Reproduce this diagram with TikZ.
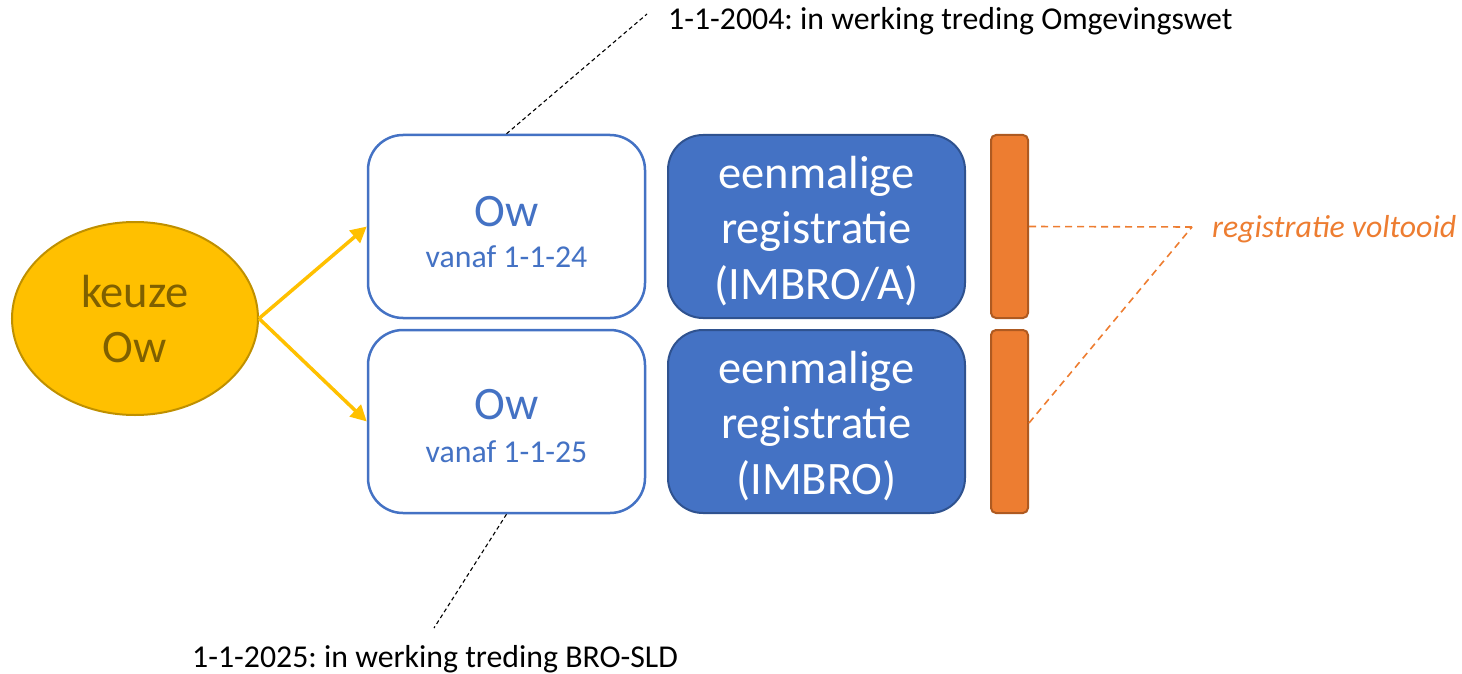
\documentclass[tikz,border=0pt]{standalone}
\usepackage{fontspec}
\setmainfont{Carlito}
\frenchspacing
\usetikzlibrary{shapes.geometric,arrows.meta}
\definecolor{ygold}{HTML}{FFC000}
\definecolor{ygoldline}{HTML}{BF9000}
\definecolor{ygoldtext}{HTML}{7F6000}
\definecolor{mblue}{HTML}{4472C4}
\definecolor{mblueline}{HTML}{2F528F}
\definecolor{morange}{HTML}{ED7D31}
\definecolor{morangeline}{HTML}{AE5A21}
\tikzset{
  keuzeshape/.style={ellipse, draw=ygoldline, fill=ygold, line width=2pt, minimum width=246, minimum height=193, inner sep=0},
  bigtext/.style={inner sep=0, font=\fontsize{46.5}{55}\selectfont},
  smalltext/.style={inner sep=0, font=\fontsize{31.8}{37}\selectfont},
  owbox/.style={draw=mblue, fill=white, line width=2.5pt, rounded corners=35, minimum width=277, minimum height=183, inner sep=0},
  regbox/.style={draw=mblueline, fill=mblue, line width=2pt, rounded corners=35, minimum width=297, minimum height=183, inner sep=0},
  donebar/.style={draw=morangeline, fill=morange, line width=2pt, rounded corners=5, minimum width=37, minimum height=183, inner sep=0},
  choicearrow/.style={draw=ygold, line width=3.5pt, -{Triangle[length=16pt,width=16pt]}, shorten >=0pt},
  blackdash/.style={draw=black, line width=1.1pt, dash pattern=on 4pt off 3pt},
  orangedash/.style={draw=morange, line width=1.6pt, dash pattern=on 7pt off 5pt},
}
\begin{document}
\begin{tikzpicture}[x=1pt,y=-1pt]
\useasboundingbox (0,0) rectangle (1462,674);
% ellipse
\node[keuzeshape] (keuze) at (135,318.5) {};
\node[bigtext, text=ygoldtext, anchor=base] (keuzeA) at (135,307) {keuze};
\node[bigtext, text=ygoldtext, anchor=base] (keuzeB) at (135,362) {Ow};
% Ow boxes
\node[owbox] (b1) at (506.5,226.5) {};
\node[bigtext, text=mblue, anchor=base] (b1a) at (506.5,226) {Ow};
\node[smalltext, text=mblue, anchor=base] (b1b) at (506.5,267) {vanaf 1-1-24};
\node[owbox] (b2) at (506.5,421.5) {};
\node[bigtext, text=mblue, anchor=base] (b2a) at (506.5,419.5) {Ow};
\node[smalltext, text=mblue, anchor=base] (b2b) at (506.5,462) {vanaf 1-1-25};
% registration boxes
\node[regbox] (r1) at (816.5,226.5) {};
\node[bigtext, text=white, anchor=base] (r1a) at (816.5,188) {eenmalige};
\node[bigtext, text=white, anchor=base] (r1b) at (816.5,243) {registratie};
\node[bigtext, text=white, anchor=base] (r1c) at (816.5,299) {(IMBRO/A)};
\node[regbox] (r2) at (816.5,421.5) {};
\node[bigtext, text=white, anchor=base] (r2a) at (816.5,383) {eenmalige};
\node[bigtext, text=white, anchor=base] (r2b) at (816.5,438) {registratie};
\node[bigtext, text=white, anchor=base] (r2c) at (816.5,494) {(IMBRO)};
% orange bars
\node[donebar] (o1) at (1009.5,226.5) {};
\node[donebar] (o2) at (1009.5,421.5) {};
% arrows
\draw[choicearrow] (keuze.east) -- (b1.west);
\draw[choicearrow] (keuze.east) -- (b2.west);
% orange callout
\coordinate (vt) at (1192,227);
\node[smalltext, text=morange, font=\fontsize{31.8}{37}\selectfont\itshape, anchor=base west] (voltooid) at (1212,237) {registratie voltooid};
\draw[orangedash] (o1.east) -- (vt);
\draw[orangedash] ([yshift=-1.5pt]o2.east) -- (vt);
% black callouts
\coordinate (c1) at (647,14);
\coordinate (c2) at (434,628);
\node[smalltext, anchor=base west] (t1) at (668,30) {1-1-2004: in werking treding Omgevingswet};
\node[smalltext, anchor=base west] (t2) at (192,667) {1-1-2025: in werking treding BRO-SLD};
\draw[blackdash] (b1.north) -- (c1);
\draw[blackdash] (b2.south) -- (c2);
\end{tikzpicture}
\end{document}
